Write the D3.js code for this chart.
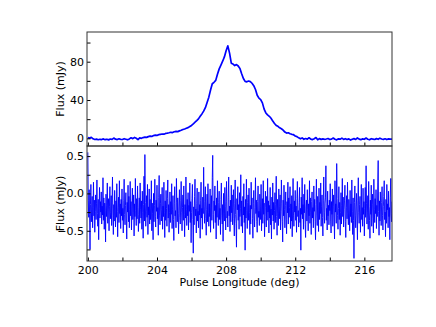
<!DOCTYPE html>
<html>
<head>
<meta charset="utf-8">
<script src="https://d3js.org/d3.v7.min.js"></script>
<style>
  body { margin: 0; background: #fff; }
  text { font-family: "DejaVu Sans", sans-serif; }
</style>
</head>
<body>
<script>
// pulse longitude grid (deg) of each series
let profileStart = 200.0, profileStep = 0.1;
let residStart = 200.0, residStep = 0.025;

// average pulse profile (mJy), one value per 0.1 deg
let profileFlux = [
  0.8, 0.2, 1.0, -0.5, -1.2, -0.8, -1.5, -1.0, -1.3, -0.6,
  -1.4, -0.9, -1.6, -0.7, -1.1, 0.3, -0.9, -1.3, -0.5, -1.0,
  -1.2, -0.4, -0.9, -1.5, -0.6, 0.6, -0.3, 0.9, 0.1, -1.4,
  0.5, 0.0, 0.8, 1.2, 1.0, 1.8, 2.3, 2.0, 2.9, 3.3,
  3.1, 3.8, 4.2, 4.5, 4.3, 5.1, 5.4, 5.8, 6.3, 6.0,
  6.9, 7.2, 7.0, 7.8, 8.4, 9.2, 9.8, 10.5, 11.2, 12.4,
  13.5, 15.0, 16.8, 18.5, 20.3, 23.0, 25.5, 28.4, 32.0, 37.5,
  43.0, 50.5, 57.0, 58.5, 60.5, 67.0, 72.5, 76.5, 80.5, 85.0,
  91.5, 96.5, 89.0, 78.5, 77.5, 76.0, 77.0, 75.5, 73.0, 67.5,
  62.5, 59.5, 59.0, 59.8, 59.2, 57.5, 55.0, 51.0, 45.0, 42.0,
  40.5, 37.0, 30.5, 26.5, 24.5, 23.0, 21.0, 18.0, 15.5, 13.5,
  12.5, 11.0, 10.0, 8.5, 6.5, 5.5, 5.8, 4.8, 4.2, 3.8,
  2.5, 1.8, 0.5, -0.5, 0.4, -1.0, -0.2, -0.8, 0.6, -0.9,
  -1.3, -0.4, 0.8, -1.5, -0.3, -1.1, -0.6, -1.0, -0.7, -0.2,
  -1.2, -0.8, 0.3, -1.0, -1.6, -0.5, -0.9, 0.2, -1.1, -0.4,
  -1.3, -0.6, -1.8, -0.9, -0.3, -1.2, 0.4, -0.8, -1.4, -0.5,
  -1.0, 0.3, -0.9, -1.5, -0.4, -0.8, -1.2, -0.3, -1.0, 0.2,
  -0.7, -1.1, -0.5, -1.3, -0.6, -0.9, -0.8
];

// residuals (mJy), one value per 0.025 deg, one row per degree
let residFlux = [
  0.55, -0.10, -0.32, 0.05, -0.28, -0.75, -0.15, 0.12, -0.38, -0.21, -0.04, -0.46, -0.19, 0.15, -0.30, -0.09, -0.52, -0.24, -0.02, -0.35, -0.14, 0.18, -0.27, -0.44, -0.08, -0.62, -0.20, 0.08, -0.33, -0.11, -0.25, 0.02, -0.41, -0.17, -0.29, 0.21, -0.36, -0.06, -0.48, -0.13,
  -0.23, -0.65, -0.01, -0.31, -0.16, 0.14, -0.40, -0.22, -0.07, -0.50, -0.18, 0.09, -0.34, -0.26, -0.03, -0.43, -0.12, 0.22, -0.29, -0.55, -0.15, -0.37, 0.04, -0.21, -0.45, -0.10, -0.32, 0.13, -0.24, -0.58, -0.19, -0.05, -0.39, 0.17, -0.27, -0.14, -0.47, -0.08, -0.30, 0.06,
  -0.36, -0.20, -0.53, -0.09, 0.19, -0.28, -0.42, -0.16, 0.01, -0.33, -0.61, -0.12, -0.25, 0.11, -0.38, -0.04, -0.46, -0.22, 0.16, -0.30, -0.11, -0.49, -0.18, 0.07, -0.35, -0.26, -0.02, -0.57, -0.14, -0.31, 0.20, -0.23, -0.43, -0.07, -0.34, 0.10, -0.19, -0.51, -0.28, -0.06,
  -0.40, 0.14, -0.21, -0.33, -0.10, -0.48, 0.03, -0.26, -0.60, -0.15, 0.23, -0.37, 0.52, -0.12, -0.44, -0.24, -0.03, -0.32, 0.12, -0.55, -0.18, -0.29, 0.06, -0.41, -0.08, -0.35, -0.20, 0.17, -0.50, -0.13, -0.27, -0.62, 0.00, -0.38, -0.16, 0.19, -0.31, -0.45, -0.09, -0.24,
  0.11, -0.34, -0.19, -0.56, -0.05, 0.24, -0.29, -0.42, -0.13, -0.01, -0.37, -0.22, 0.08, -0.48, -0.17, -0.31, 0.15, -0.25, -0.59, -0.10, -0.36, 0.04, -0.20, -0.44, -0.07, 0.18, -0.33, -0.15, -0.52, -0.26, 0.02, -0.39, -0.11, -0.28, 0.13, -0.47, -0.21, -0.03, -0.35, -0.63,
  -0.14, 0.09, -0.30, -0.23, -0.46, 0.20, -0.12, -0.38, -0.06, -0.27, -0.54, -0.17, 0.05, -0.32, -0.41, -0.09, 0.16, -0.25, -0.50, -0.19, -0.02, -0.36, 0.10, -0.28, -0.58, -0.15, -0.33, 0.22, -0.21, -0.43, -0.08, -0.30, 0.01, -0.49, -0.16, -0.24, 0.14, -0.39, -0.11, -0.66,
  -0.26, -0.07, 0.12, -0.35, -0.80, -0.18, -0.42, -0.04, 0.19, -0.30, -0.21, -0.53, -0.13, 0.07, -0.37, -0.24, -0.46, 0.02, -0.29, -0.15, -0.60, -0.09, 0.15, -0.33, -0.20, -0.48, -0.05, -0.27, 0.35, -0.17, -0.40, -0.11, 0.09, -0.34, -0.56, -0.22, -0.01, -0.38, 0.13, -0.25,
  -0.44, -0.14, -0.31, 0.06, -0.52, -0.19, -0.03, -0.36, 0.21, 0.51, -0.28, -0.47, -0.10, -0.23, 0.10, -0.39, -0.16, -0.61, -0.06, -0.32, 0.17, -0.25, -0.43, -0.12, 0.03, -0.35, -0.20, -0.55, -0.08, 0.14, -0.29, -0.41, -0.15, -0.64, 0.00, -0.27, -0.37, 0.08, -0.18, -0.49,
  -0.11, 0.16, -0.33, -0.24, -0.45, -0.05, 0.22, -0.30, -0.17, -0.51, -0.09, -0.38, 0.11, -0.26, -0.02, -0.42, -0.19, 0.05, -0.34, -0.57, -0.13, 0.18, -0.28, -0.40, -0.72, -0.07, -0.22, 0.09, -0.36, -0.15, -0.48, 0.01, -0.31, -0.20, 0.25, -0.44, -0.10, -0.27, -0.53, -0.04,
  -0.29, 0.13, -0.39, -0.18, -0.76, -0.08, -0.33, 0.19, -0.23, -0.47, -0.12, -0.02, -0.36, 0.07, -0.26, -0.55, -0.16, -0.41, 0.15, -0.21, -0.06, -0.34, -0.60, -0.14, 0.04, -0.30, -0.45, -0.19, 0.21, -0.27, -0.09, -0.38, -0.52, -0.11, 0.10, -0.32, -0.24, -0.43, -0.01, -0.17,
  -0.35, 0.12, -0.50, -0.22, -0.07, -0.40, 0.17, -0.28, -0.13, -0.58, -0.31, 0.03, -0.19, -0.45, -0.04, -0.36, 0.20, -0.25, -0.10, -0.53, -0.16, -0.33, 0.08, -0.42, -0.21, -0.61, -0.05, -0.29, 0.14, -0.37, -0.12, -0.48, -0.23, 0.01, -0.39, -0.15, 0.23, -0.31, -0.56, -0.08,
  -0.27, -0.43, 0.06, -0.18, -0.34, -0.02, -0.49, -0.24, 0.18, -0.13, -0.38, -0.65, -0.09, -0.30, 0.11, -0.22, -0.46, -0.16, 0.02, -0.35, -0.54, -0.11, -0.26, 0.15, -0.41, -0.06, -0.32, -0.19, 0.09, -0.47, -0.14, -0.37, -0.03, -0.58, -0.21, 0.20, -0.29, -0.44, -0.10, -0.25,
  0.04, -0.36, -0.17, -0.52, -0.07, 0.16, -0.31, -0.23, -0.45, -0.12, 0.08, -0.39, -0.20, -0.76, -0.05, -0.28, 0.21, -0.34, -0.15, -0.48, -0.01, -0.26, 0.12, -0.42, -0.59, -0.18, -0.09, -0.37, 0.05, -0.22, -0.50, -0.14, -0.30, 0.17, -0.40, -0.06, -0.25, -0.55, -0.11, 0.02,
  -0.33, -0.19, -0.46, 0.10, -0.24, -0.08, -0.38, -0.62, -0.15, 0.19, -0.29, -0.43, -0.04, -0.21, -0.51, 0.07, -0.35, -0.12, -0.27, 0.14, -0.44, -0.17, -0.02, -0.32, -0.57, -0.10, 0.22, -0.26, -0.40, -0.13, -0.06, 0.37, -0.36, -0.20, -0.49, 0.03, -0.30, -0.16, -0.42, -0.09,
  -0.23, 0.13, -0.37, -0.53, -0.11, -0.28, 0.06, -0.44, -0.18, -0.02, -0.33, -0.61, 0.17, -0.25, -0.14, -0.40, 0.40, -0.07, -0.30, -0.48, -0.20, 0.09, -0.35, -0.12, -0.56, -0.26, 0.01, -0.41, -0.16, 0.20, -0.31, -0.05, -0.45, -0.22, -0.10, 0.11, -0.38, -0.59, -0.19, -0.03,
  -0.34, 0.15, -0.27, -0.42, -0.08, -0.21, -0.50, 0.04, -0.31, -0.14, -0.39, 0.18, -0.24, -0.55, -0.06, -0.36, -0.87, -0.12, 0.10, -0.29, -0.46, -0.17, 0.00, -0.33, -0.62, -0.09, 0.21, -0.26, -0.40, -0.15, -0.04, -0.52, -0.22, 0.12, -0.35, -0.19, -0.44, 0.07, -0.28, -0.11,
  -0.57, -0.20, 0.08, -0.32, 0.37, -0.13, -0.41, -0.25, -0.03, -0.48, 0.16, -0.18, -0.36, -0.60, -0.09, -0.28, 0.11, -0.44, -0.15, -0.01, -0.34, -0.53, 0.19, -0.22, -0.39, -0.07, -0.27, 0.05, -0.47, -0.16, -0.31, 0.14, 0.44, -0.24, -0.56, -0.10, -0.37, 0.02, -0.21, -0.43,
  -0.12, 0.09, -0.30, -0.49, -0.18, -0.04, 0.17, -0.35, -0.25, -0.58, -0.08, -0.40, 0.12, -0.22, -0.14, -0.46, 0.03, -0.31, -0.19, -0.62, -0.06, 0.20, -0.27, -0.38, -0.11
];

// ticks
let xTicks = [200, 202, 204, 206, 208, 210, 212, 214, 216];
let xLabels = [200, 204, 208, 212, 216];
let topTicks = [0, 20, 40, 60, 80, 100];
let topLabels = [0, 40, 80];
let botTicks = [-0.75, -0.5, -0.25, 0, 0.25, 0.5];
let botLabels = [-0.5, 0, 0.5];

let width = 436, height = 327;
let left = 87, right = 392;
let topY0 = 32, topY1 = 146, botY0 = 146, botY1 = 261;

let svg = d3.select("body").append("svg")
    .attr("width", width)
    .attr("height", height);

let x = d3.scaleLinear().domain([199.95, 217.6]).range([left, right]);
let yTop = d3.scaleLinear().domain([-8, 111]).range([topY1, topY0]);
let yBot = d3.scaleLinear().domain([-0.905, 0.635]).range([botY1, botY0]);

let profile = profileFlux.map((v, i) => ({x: profileStart + i * profileStep, y: v}));
let resid = residFlux.map((v, i) => ({x: residStart + i * residStep, y: v}));

// clip paths so lines stay inside panels
let defs = svg.append("defs");
defs.append("clipPath").attr("id", "clipTop").append("rect")
    .attr("x", left).attr("y", topY0).attr("width", right - left).attr("height", topY1 - topY0);
defs.append("clipPath").attr("id", "clipBot").append("rect")
    .attr("x", left).attr("y", botY0).attr("width", right - left).attr("height", botY1 - botY0);

svg.append("path")
    .datum(profile)
    .attr("clip-path", "url(#clipTop)")
    .attr("fill", "none")
    .attr("stroke", "#0000ff")
    .attr("stroke-width", 1.7)
    .attr("stroke-linejoin", "round")
    .attr("d", d3.line().x(d => x(d.x)).y(d => yTop(d.y)));

svg.append("path")
    .datum(resid)
    .attr("clip-path", "url(#clipBot)")
    .attr("fill", "none")
    .attr("stroke", "#0000ff")
    .attr("stroke-width", 0.9)
    .attr("d", d3.line().x(d => x(d.x)).y(d => yBot(d.y)));

// axes: inward ticks, labels only on some of them
function panelAxes(y, y0, y1, ticks, labels, fmt, showX) {
    let g = svg.append("g");
    let la = g.append("g").attr("transform", `translate(${left},0)`)
        .call(d3.axisLeft(y).tickValues(ticks).tickSizeInner(-3.5).tickSizeOuter(0)
            .tickFormat(d => labels.includes(d) ? fmt(d) : ""));
    la.select(".domain").remove();
    la.selectAll("text").attr("x", -3).attr("font-size", 11).attr("font-family", "DejaVu Sans").attr("fill", "#000");
    la.selectAll("line").attr("stroke", "#000");

    let ba = g.append("g").attr("transform", `translate(0,${y1})`)
        .call(d3.axisBottom(x).tickValues(xTicks).tickSizeInner(-3.5).tickSizeOuter(0)
            .tickFormat(d => showX && xLabels.includes(d) ? d : ""));
    ba.select(".domain").remove();
    ba.selectAll("text").attr("y", 5).attr("font-size", 11).attr("font-family", "DejaVu Sans").attr("fill", "#000");
    ba.selectAll("line").attr("stroke", "#000");

    g.append("rect")
        .attr("x", left).attr("y", y0)
        .attr("width", right - left).attr("height", y1 - y0)
        .attr("fill", "none").attr("stroke", "#333").attr("stroke-width", 1);
}

panelAxes(yTop, topY0, topY1, topTicks, topLabels, d => d, false);
panelAxes(yBot, botY0, botY1, botTicks, botLabels, d => d3.format(".1f")(d).replace("-", "\u2212"), true);

svg.append("text")
    .attr("transform", `translate(64,${(topY0 + topY1) / 2}) rotate(-90)`)
    .attr("text-anchor", "middle")
    .attr("font-size", 11)
    .text("Flux (mJy)");

svg.append("text")
    .attr("transform", `translate(64,${(botY0 + botY1) / 2}) rotate(-90)`)
    .attr("text-anchor", "middle")
    .attr("font-size", 11)
    .text("Flux (mJy)");

svg.append("text")
    .attr("x", (left + right) / 2)
    .attr("y", 286)
    .attr("text-anchor", "middle")
    .attr("font-size", 11)
    .text("Pulse Longitude (deg)");
</script>
</body>
</html>
